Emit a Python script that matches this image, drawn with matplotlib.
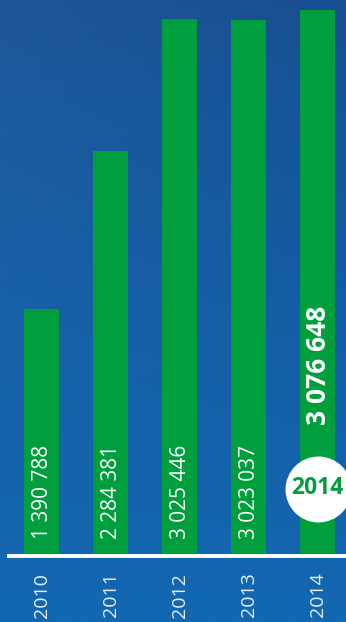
import matplotlib
matplotlib.use('Agg')
import matplotlib.pyplot as plt
import matplotlib.transforms as mtransforms
import numpy as np

years = ['2010', '2011', '2012', '2013', '2014']
values = [1390788, 2284381, 3025446, 3023037, 3076648]
labels = ['1 390 788', '2 284 381', '3 025 446', '3 023 037', '3 076 648']

GREEN = '#009e3d'
plt.rcParams['font.family'] = ['Open Sans', 'DejaVu Sans']

fig = plt.figure(figsize=(3.46, 6.22), dpi=100)
ax = fig.add_axes([0, 0, 1, 1])

# background gradient
h, w = 200, 100
yy, xx = np.mgrid[0:1:h * 1j, 0:1:w * 1j]
top = np.array([31, 86, 152]) / 255
bot = np.array([18, 104, 178]) / 255
t = (yy ** 0.8)[..., None]
grad = top * (1 - t) + bot * t
grad = grad - (xx * (1 - yy))[..., None] * 0.03
ax.imshow(np.clip(grad, 0, 1), extent=[0, 1, 0, 1], transform=ax.transAxes,
          aspect='auto', zorder=0, interpolation='bilinear')

x = np.arange(len(years))
ppx = values[-1] / 546.0
ax.bar(x, values, width=35 / 69, color=GREEN, zorder=2)
ax.set_xlim(-41.5 / 69, (346 - 41.5) / 69)
ax.set_ylim(-66 * ppx, 556 * ppx)
ax.axhline(0, xmin=9 / 346, xmax=1, color='white', lw=2.8, zorder=3)

for i, (lab, yr) in enumerate(zip(labels, years)):
    if i < len(years) - 1:
        ax.annotate(lab, (i, 0), xytext=(0.5, 12), textcoords='offset points',
                    rotation=90, ha='center', va='bottom', color='white',
                    fontsize=15)
    else:
        ax.annotate(lab, (i, 0), xytext=(0.5, 94), textcoords='offset points',
                    rotation=90, ha='center', va='bottom', color='white',
                    fontsize=19, fontweight='bold')
    ax.annotate(yr, (i, 0), xytext=(0, -12), textcoords='offset points',
                rotation=90, ha='center', va='top', color='#e8eef7',
                fontsize=14)

# highlighted year badge
circ = mtransforms.offset_copy(ax.transData, fig=fig, y=67.5, units='dots')
ax.plot([x[-1]], [0], 'o', ms=47.5, color='white', mec='none',
        transform=circ, zorder=4)
ax.text(x[-1], 0, years[-1], transform=circ, ha='center', va='center',
        color=GREEN, fontsize=16.5, fontweight='bold', zorder=5)

ax.axis('off')
fig.savefig('out.png', dpi=100)
